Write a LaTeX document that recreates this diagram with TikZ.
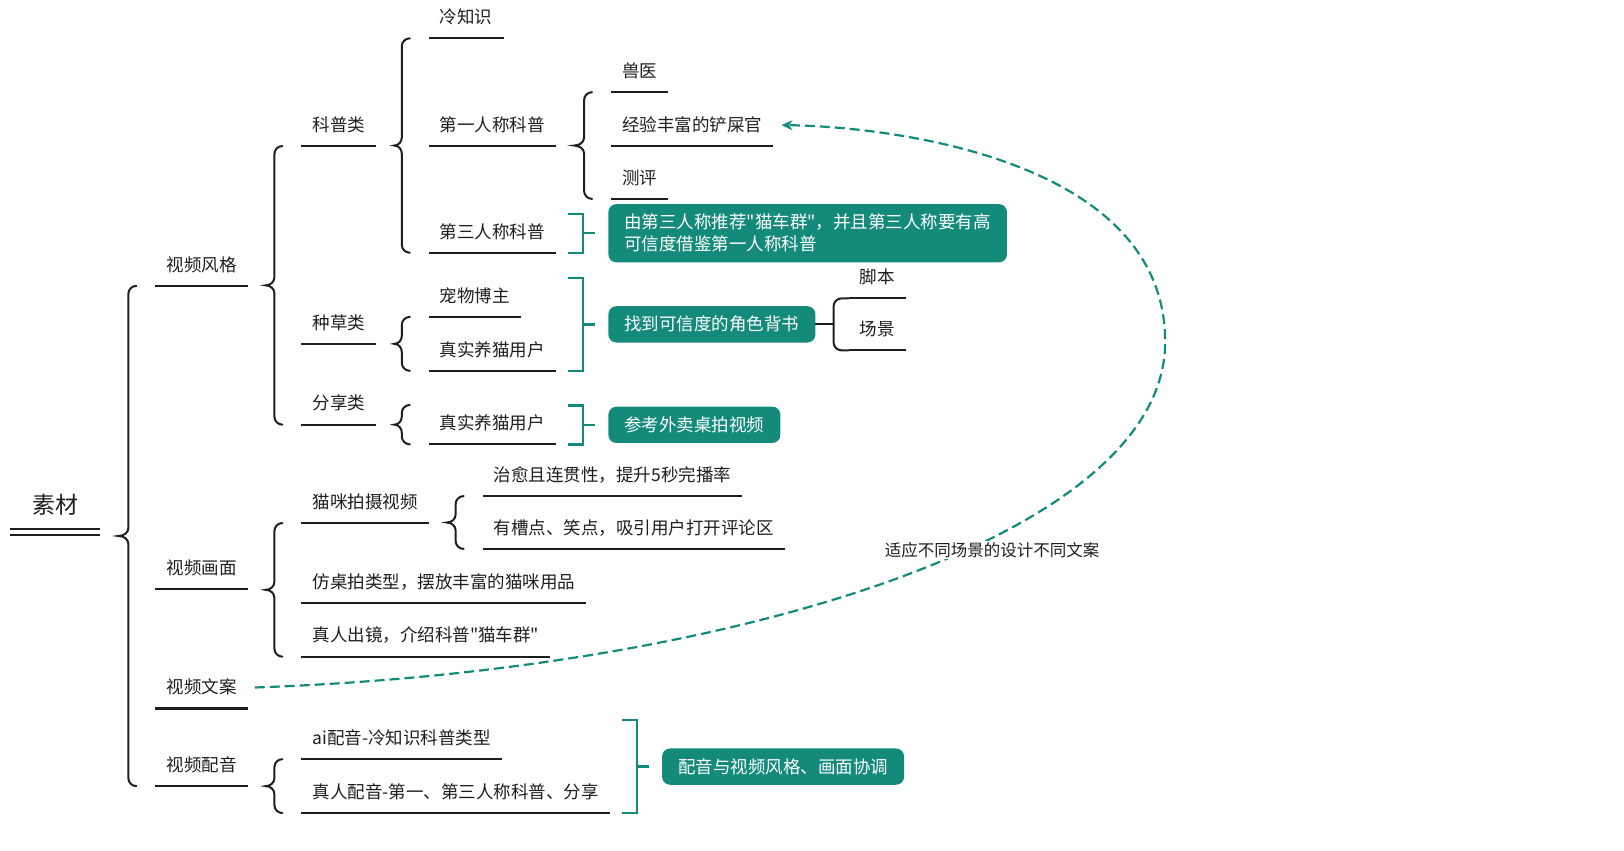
\documentclass[tikz,border=0pt]{standalone}
\usepackage{fontspec}
\setmainfont{Noto Sans CJK SC}[Ligatures=TeXOff]
\usetikzlibrary{positioning, calc, arrows.meta}

\definecolor{mindteal}{HTML}{148A7B}
\definecolor{ink}{HTML}{1E1E1E}

% curly brace: parent, top end, bottom child
\newcommand{\leftbr}[3]{%
  \draw[brace] let \p1=(#1.south east), \p2=(#2), \p3=(#3.south west),
    \p4=($(#2)!0.5!(#3.south west)$) in
    (\x3-19pt,\y2) to[out=180,in=90] (\x3-27pt,\y2-8pt)
    -- (\x3-27pt,\y4+8pt) to[out=-90,in=0] (\x1+18pt,\y4)
    to[out=0,in=90] (\x3-27pt,\y4-8pt)
    -- (\x3-27pt,\y3+8pt) to[out=-90,in=180] (\x3-19pt,\y3);}
% square bracket: top child, bottom child, widest child, stub name
\newcommand{\rightbr}[4]{%
  \draw[tealbr] let \p1=(#1.south west), \p2=(#2.south west), \p3=(#3.south east),
    \p4=($(#1.south west)!0.5!(#2.south west)$) in
    (\x3+12pt,\y1+39pt) -- (\x3+27pt,\y1+39pt) -- (\x3+27pt,\y2) -- (\x3+12pt,\y2)
    (\x3+27pt,\y4+19.5pt) -- (\x3+39pt,\y4+19.5pt) coordinate (#4);}

\begin{document}
\begin{tikzpicture}[x=1.0357pt, y=-1.0357pt, >={Stealth[length=11pt,width=10pt]},
  item/.style={font=\fontsize{17.5}{21}\selectfont, text=ink, text height=12.5pt,
    text depth=0pt, inner xsep=11pt, inner ysep=14.5pt, anchor=south west},
  root/.style={font=\fontsize{23}{28}\selectfont, text=ink, text height=16pt,
    text depth=0pt, minimum width=90pt, inner ysep=18pt, anchor=south west},
  uline/.style={draw=ink, line width=2.2pt},
  brace/.style={draw=ink, line width=2pt, line cap=round},
  tealbr/.style={draw=mindteal, line width=2.4pt, line join=miter},
  tealbox/.style={fill=mindteal, text=white, rounded corners=8pt,
    font=\fontsize{17.5}{22}\selectfont, inner xsep=16pt, inner ysep=10pt, align=left},
  note/.style={font=\fontsize{16.5}{20}\selectfont, text=ink, fill=white, inner sep=1pt}]

  \useasboundingbox (0,0) rectangle (1568,821);

  \node[root] (sc) at (9.7,513.7) {素材};
  \draw[ink, double, double distance=3.2pt, line width=2.4pt] (sc.south west) -- (sc.south east);

  \node[item] (spfg) at (150,276) {视频风格};
  \node[item] (sphm) at (150,569) {视频画面};
  \node[item] (spwa) at (150,684) {视频文案};
  \node[item] (sppy) at (150,759) {视频配音};

  \node[item] (kpl) at (291,141) {科普类};
  \node[item] (zcl) at (291,332) {种草类};
  \node[item] (fxl) at (291,410) {分享类};
  \node[item] (mmps) at (291,505) {猫咪拍摄视频};
  \node[item] (fzp) at (291,582) {仿桌拍类型，摆放丰富的猫咪用品};
  \node[item] (zrcj) at (291,634) {真人出镜，介绍科普"猫车群"};
  \node[item] (aipy) at (291,733) {ai配音-冷知识科普类型};
  \node[item] (zrpy) at (291,785) {真人配音-第一、第三人称科普、分享};

  \node[item] (lzs) at (414,37) {冷知识};
  \node[item] (dyr) at (414,141) {第一人称科普};
  \node[item] (dsr) at (414,244) {第三人称科普};
  \node[item] (cwbz) at (414,306) {宠物博主};
  \node[item] (zsyh1) at (414,358) {真实养猫用户};
  \node[item] (zsyh2) at (414,429) {真实养猫用户};
  \coordinate (fxup) at ($(zsyh2.south west)+(0,-38)$);

  \node[item] (zy) at (466,479) {治愈且连贯性，提升5秒完播率};
  \node[item] (ycd) at (466,530) {有槽点、笑点，吸引用户打开评论区};

  \node[item] (sy) at (590,89) {兽医};
  \node[item] (cxg) at (590,141) {经验丰富的铲屎官};
  \node[item] (cp) at (590,192) {测评};

  \foreach \n in {spfg,sphm,spwa,sppy,kpl,zcl,fxl,mmps,fzp,zrcj,aipy,zrpy,
                  lzs,dyr,dsr,cwbz,zsyh1,zsyh2,zy,ycd,sy,cxg,cp}
    \draw[uline] (\n.south west) -- (\n.south east);

  \leftbr{sc}{spfg.south west}{sppy}
  \leftbr{spfg}{kpl.south west}{fxl}
  \leftbr{sphm}{mmps.south west}{zrcj}
  \leftbr{sppy}{aipy.south west}{zrpy}
  \leftbr{kpl}{lzs.south west}{dsr}
  \leftbr{zcl}{cwbz.south west}{zsyh1}
  \leftbr{fxl}{fxup}{zsyh2}
  \leftbr{dyr}{sy.south west}{cp}
  \leftbr{mmps}{zy.south west}{ycd}

  \rightbr{dsr}{dsr}{dsr}{dsrst}
  \rightbr{cwbz}{zsyh1}{zsyh1}{zcst}
  \rightbr{zsyh2}{zsyh2}{zsyh2}{fxst}
  \rightbr{aipy}{zrpy}{zrpy}{pyst}

  \node[tealbox, right=13pt of dsrst] (dsrbox) {由第三人称推荐"猫车群"，并且第三人称要有高\\可信度借鉴第一人称科普};
  \node[tealbox, right=13pt of zcst] (bsbox) {找到可信度的角色背书};
  \node[tealbox, right=13pt of fxst] (wmbox) {参考外卖桌拍视频};
  \node[tealbox, right=13pt of pyst] (pybox) {配音与视频风格、画面协调};

  \coordinate (bsj) at ($(bsbox.east)+(18pt,0)$);
  \node[item] (jb) at ($(bsj)+(15pt,26pt)$) {脚本};
  \node[item] (cj) at ($(bsj)+(15pt,-26pt)$) {场景};
  \draw[uline] (jb.south west) -- (jb.south east);
  \draw[uline] (cj.south west) -- (cj.south east);
  \draw[brace, rounded corners=8pt] (jb.south west) -| (bsj) |- (cj.south west);
  \draw[brace] (bsbox.east) -- (bsj);

  \draw[mindteal, line width=2.2pt, dash pattern=on 10pt off 5pt, ->]
    ([xshift=7pt]spwa.east) .. controls (700,648) and (1125,520) .. (1125,330)
    .. controls (1125,150) and (850,122) .. ([xshift=8pt]cxg.east);
  \node[note] (wanote) at (957.8,531) {适应不同场景的设计不同文案};
\end{tikzpicture}
\end{document}
